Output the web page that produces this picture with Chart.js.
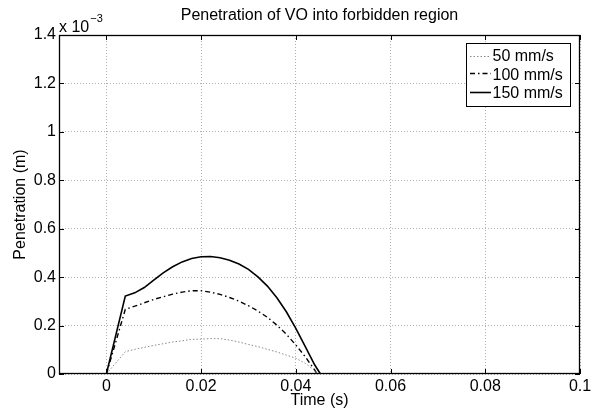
<!DOCTYPE html>
<html>
<head>
<meta charset="utf-8">
<script src="https://cdn.jsdelivr.net/npm/chart.js@4.4.0/dist/chart.umd.min.js"></script>
<style>
  body { margin: 0; background: #fff; }
  #wrap { width: 600px; height: 415px; }
</style>
</head>
<body>
<div id="wrap"><canvas id="myChart" width="600" height="415"></canvas></div>
<script>
// Sample times (s)
const time = [0, 0.004, 0.006, 0.008, 0.010, 0.012, 0.014, 0.016, 0.018, 0.020, 0.022,
  0.024, 0.026, 0.028, 0.030, 0.032, 0.034, 0.036, 0.038, 0.040, 0.042, 0.044];
// Penetration, in units of 1e-3 m
const pen50 = [0, 0.092, 0.102, 0.110, 0.118, 0.125, 0.132, 0.137, 0.143, 0.144, 0.146,
  0.146, 0.140, 0.132, 0.122, 0.113, 0.102, 0.091, 0.078, 0.065, 0.044, 0.014];
const pen100 = [0, 0.267, 0.280, 0.294, 0.308, 0.319, 0.330, 0.338, 0.344, 0.344, 0.338,
  0.329, 0.316, 0.301, 0.282, 0.260, 0.234, 0.202, 0.164, 0.120, 0.071, 0.016];
const pen150 = [0, 0.322, 0.335, 0.357, 0.388, 0.418, 0.443, 0.463, 0.477, 0.484, 0.485,
  0.480, 0.470, 0.454, 0.432, 0.401, 0.363, 0.315, 0.257, 0.188, 0.113, 0.037];
// Time where each curve is back to zero
const endTime = [0.0446, 0.0445, 0.0452];
const seriesLabels = ['50 mm/s', '100 mm/s', '150 mm/s'];

const xTicks = [0, 0.02, 0.04, 0.06, 0.08, 0.1];
const xTickLabels = ['0', '0.02', '0.04', '0.06', '0.08', '0.1'];
const yTicks = [0, 0.2, 0.4, 0.6, 0.8, 1, 1.2, 1.4];
const yTickLabels = ['0', '0.2', '0.4', '0.6', '0.8', '1', '1.2', '1.4'];

const FONT = "'Liberation Sans', Arial, Helvetica, sans-serif";
Chart.defaults.font.family = FONT;
Chart.defaults.font.size = 16;
Chart.defaults.color = '#000';

function toPoints(values, tEnd) {
  const pts = time.map((t, i) => ({ x: t, y: values[i] }));
  pts.push({ x: tEnd, y: 0 });
  return pts;
}

// Box, inward ticks, exponent note and the legend inside the axes
const matlabAxes = {
  id: 'matlabAxes',
  afterDraw(chart) {
    const ctx = chart.ctx;
    const a = chart.chartArea;
    const xs = chart.scales.x, ys = chart.scales.y;
    const tick = 5;
    ctx.save();
    ctx.strokeStyle = '#000';
    ctx.lineWidth = 1;
    ctx.beginPath();
    xs.ticks.forEach(t => {
      const px = Math.round(xs.getPixelForValue(t.value)) + 0.5;
      ctx.moveTo(px, a.bottom); ctx.lineTo(px, a.bottom - tick);
      ctx.moveTo(px, a.top); ctx.lineTo(px, a.top + tick);
    });
    ys.ticks.forEach(t => {
      const py = Math.round(ys.getPixelForValue(t.value)) + 0.5;
      ctx.moveTo(a.left, py); ctx.lineTo(a.left + tick, py);
      ctx.moveTo(a.right, py); ctx.lineTo(a.right - tick, py);
    });
    ctx.stroke();
    ctx.lineWidth = 1.3;
    ctx.strokeRect(Math.round(a.left) + 0.5, Math.round(a.top) + 0.5,
      Math.round(a.right - a.left) - 1, Math.round(a.bottom - a.top) - 1);

    // exponent label
    ctx.fillStyle = '#000';
    ctx.textBaseline = 'alphabetic';
    ctx.textAlign = 'left';
    ctx.font = '16px ' + FONT;
    ctx.fillText('x 10', a.left, a.top - 3);
    const w = ctx.measureText('x 10').width;
    ctx.font = '11px ' + FONT;
    ctx.fillText('\u22123', a.left + w + 1, a.top - 13.5);

    // legend
    const lx = 466, ly = 43, lw = 104, lh = 63;
    ctx.fillStyle = '#fff';
    ctx.fillRect(lx, ly, lw, lh);
    ctx.lineWidth = 1;
    ctx.strokeStyle = '#000';
    ctx.strokeRect(lx + 0.5, ly + 0.5, lw, lh);
    const lineRows = [56, 73, 92];
    const textRows = [57, 75.5, 94];
    chart.data.datasets.forEach((ds, i) => {
      ctx.save();
      ctx.strokeStyle = ds.borderColor;
      ctx.lineWidth = ds.borderWidth;
      ctx.setLineDash(ds.borderDash || []);
      ctx.beginPath();
      ctx.moveTo(lx + 4, lineRows[i] + 0.5);
      ctx.lineTo(lx + 25, lineRows[i] + 0.5);
      ctx.stroke();
      ctx.restore();
      ctx.fillStyle = '#000';
      ctx.font = '16px ' + FONT;
      ctx.textBaseline = 'middle';
      ctx.fillText(ds.label, lx + 26.5, textRows[i]);
    });
    ctx.restore();
  }
};

const ctx = document.getElementById('myChart').getContext('2d');
const myChart = new Chart(ctx, {
  type: 'line',
  data: {
    datasets: [
      {
        label: seriesLabels[0],
        data: toPoints(pen50, endTime[0]),
        borderColor: '#8a8a8a',
        borderWidth: 1,
        borderDash: [1.5, 2],
        pointRadius: 0,
        tension: 0
      },
      {
        label: seriesLabels[1],
        data: toPoints(pen100, endTime[1]),
        borderColor: '#000',
        borderWidth: 1.4,
        borderDash: [5, 3, 1.5, 3],
        pointRadius: 0,
        tension: 0
      },
      {
        label: seriesLabels[2],
        data: toPoints(pen150, endTime[2]),
        borderColor: '#000',
        borderWidth: 1.6,
        pointRadius: 0,
        tension: 0
      }
    ]
  },
  options: {
    responsive: false,
    animation: false,
    layout: { padding: { left: 0, right: 20, top: 0, bottom: 0 } },
    scales: {
      x: {
        type: 'linear',
        min: -0.01,
        max: 0.1,
        afterBuildTicks: s => { s.ticks = xTicks.map(v => ({ value: v })); },
        afterFit: s => { s.height = 41; },
        ticks: {
          padding: 3,
          maxRotation: 0,
          callback: v => xTickLabels[xTicks.indexOf(v)]
        },
        grid: { color: '#b0b0b0', drawTicks: false },
        border: { display: false, dash: [1, 2] },
        title: { display: true, text: 'Time (s)', padding: { top: 0, bottom: 4.5 } }
      },
      y: {
        min: 0,
        max: 1.4,
        afterBuildTicks: s => { s.ticks = yTicks.map(v => ({ value: v })); },
        afterFit: s => { s.width = 59; },
        ticks: {
          padding: 3,
          callback: v => yTickLabels[yTicks.indexOf(v)]
        },
        grid: { color: '#b0b0b0', drawTicks: false },
        border: { display: false, dash: [1, 2] },
        title: { display: true, text: 'Penetration (m)', padding: { top: 11, bottom: 0 } }
      }
    },
    plugins: {
      legend: { display: false },
      tooltip: { enabled: false },
      title: {
        display: true,
        fullSize: false,
        text: 'Penetration of VO into forbidden region',
        font: { size: 16, weight: 'normal' },
        color: '#000',
        padding: { top: 6.4, bottom: 9.4 }
      }
    }
  },
  plugins: [matlabAxes]
});
</script>
</body>
</html>
